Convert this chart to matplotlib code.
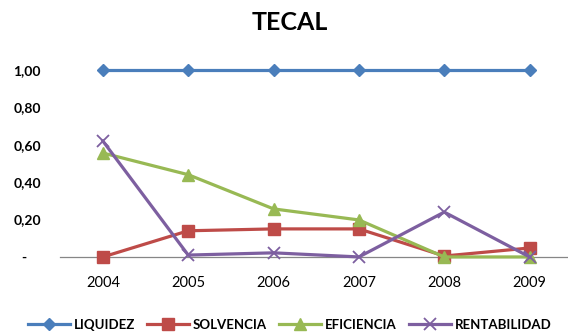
import numpy as np
import matplotlib
matplotlib.use("Agg")
import matplotlib.pyplot as plt

plt.rcParams['font.family'] = ['Lato', 'DejaVu Sans']

# data
years = ['2004', '2005', '2006', '2007', '2008', '2009']
liquidez = [1.00, 1.00, 1.00, 1.00, 1.00, 1.00]
solvencia = [0.00, 0.14, 0.15, 0.15, 0.005, 0.048]
eficiencia = [0.556, 0.44, 0.257, 0.198, 0.00, 0.00]
rentabilidad = [0.62, 0.01, 0.022, 0.00, 0.24, 0.00]
yticks = [0, 0.2, 0.4, 0.6, 0.8, 1.0]
ytick_labels = ['-    ', '0,20', '0,40', '0,60', '0,80', '1,00']

fig = plt.figure(figsize=(5.68, 3.35), dpi=100)
ax = fig.add_axes([0.106, 0.233, 0.894, 0.558])

x = np.arange(len(years))
ax.plot(x, liquidez, color='#4A7EBB', lw=2.3, marker='D', ms=6.5, label='LIQUIDEZ', clip_on=False, zorder=3)
ax.plot(x, solvencia, color='#BE4B48', lw=2.3, marker='s', ms=8, label='SOLVENCIA', clip_on=False, zorder=3)
ax.plot(x, eficiencia, color='#98B954', lw=2.3, marker='^', ms=8.5, label='EFICIENCIA', clip_on=False, zorder=3)
ax.plot(x, rentabilidad, color='#7D5FA0', lw=2.3, marker='x', ms=8, mew=1.3, label='RENTABILIDAD', clip_on=False, zorder=4)

ax.set_xlim(-0.5, 5.45)
ax.set_ylim(0, 1.0)
ax.set_xticks(x)
ax.set_xticklabels(years, fontsize=10.5)
ax.set_yticks(yticks)
ax.set_yticklabels(ytick_labels, fontsize=10, fontweight='bold')
ax.tick_params(axis='both', length=0)
ax.tick_params(axis='x', pad=14)
ax.tick_params(axis='y', pad=14)

for s in ['top', 'right', 'left']:
    ax.spines[s].set_visible(False)
ax.spines['bottom'].set_color('#868686')
ax.spines['bottom'].set_linewidth(0.9)

fig.text(0.51, 0.932, 'TECAL', ha='center', va='center', fontsize=18, fontweight='bold')

leg = fig.legend(loc='center', bbox_to_anchor=(0.51, 0.03), ncol=4, frameon=False,
                 prop={'weight': 'bold', 'size': 9.5}, handlelength=3.2,
                 columnspacing=0.9, handletextpad=0.3)

fig.savefig('out.png', dpi=100)
